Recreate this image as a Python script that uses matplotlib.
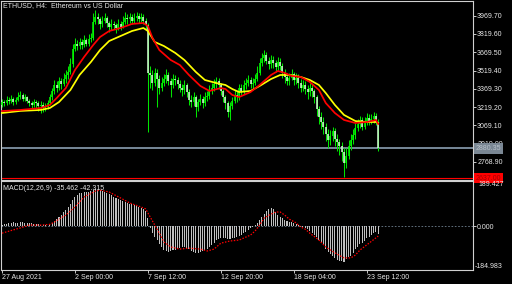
"""
ETHUSD H4 chart with moving averages and MACD (MetaTrader style)
"""

import matplotlib
matplotlib.use("Agg")
import matplotlib.pyplot as plt
import matplotlib.transforms as mtransforms

W, H, DPI = 512, 284, 100

FONT = "Liberation Sans"
FS = 5.0
BG = "#000000"
FRAME = "#d0d0d0"
TEXT = "#e8e8e8"

# ---- candles (H4 bars, 27 Aug 2021 -> 23 Sep 2021) ----
first_open = 3240
closes = [
    3260, 3250, 3280, 3270, 3290, 3260, 3280, 3300, 3320, 3290,
    3300, 3270, 3250, 3240, 3260, 3250, 3230, 3240, 3210, 3220,
    3250, 3300, 3350, 3400, 3380, 3430, 3410, 3450, 3480, 3510,
    3570, 3700, 3740, 3720, 3750, 3730, 3770, 3740, 3780, 3790,
    3920, 3960, 3940, 3900, 3930, 3950, 3910, 3880, 3900, 3890,
    3870, 3900, 3880, 3920, 3950, 3940, 3960, 3930, 3950, 3970,
    3940, 3960, 3930, 3890, 3500, 3480, 3420, 3500, 3450, 3380,
    3420, 3450, 3480, 3430, 3400, 3450, 3440, 3410, 3380, 3360,
    3400, 3340, 3280, 3260, 3300, 3220, 3260, 3290, 3250, 3300,
    3310, 3360, 3380, 3410, 3430, 3400, 3350, 3300, 3250, 3180,
    3230, 3270, 3320, 3300, 3380, 3350, 3400, 3420, 3440, 3410,
    3420, 3450, 3500, 3580, 3620, 3650, 3600, 3570, 3610, 3580,
    3550, 3590, 3560, 3500, 3470, 3430, 3460, 3490, 3440, 3460,
    3420, 3380, 3400, 3370, 3340, 3380, 3350, 3300, 3200, 3140,
    3100, 3060, 3000, 2950, 2980, 3020, 2960, 2930, 2900, 2850,
    2760, 2820, 2900, 2950, 2990, 3050, 3080, 3110, 3060, 3100,
    3130, 3100, 3120, 3150, 3100, 2880.35,
]
highs = [
    3290, 3280, 3310, 3300, 3320, 3305, 3300, 3340, 3350, 3335,
    3330, 3310, 3290, 3270, 3290, 3280, 3270, 3270, 3260, 3250,
    3280, 3330, 3380, 3440, 3430, 3470, 3460, 3500, 3520, 3560,
    3620, 3740, 3790, 3770, 3790, 3780, 3810, 3790, 3820, 3830,
    3990, 4020, 3990, 3960, 3970, 3990, 3970, 3930, 3940, 3930,
    3910, 3940, 3930, 3970, 4000, 3980, 3990, 3980, 3990, 4000,
    3990, 3990, 3980, 3950, 3910, 3560, 3520, 3540, 3530, 3480,
    3470, 3490, 3530, 3510, 3460, 3490, 3480, 3470, 3440, 3410,
    3440, 3420, 3370, 3320, 3340, 3320, 3290, 3330, 3310, 3340,
    3350, 3400, 3420, 3450, 3470, 3460, 3420, 3370, 3320, 3270,
    3260, 3300, 3360, 3350, 3410, 3410, 3440, 3460, 3480, 3470,
    3460, 3490, 3560, 3620, 3660, 3690, 3670, 3630, 3650, 3640,
    3610, 3630, 3620, 3580, 3530, 3500, 3500, 3530, 3510, 3500,
    3490, 3450, 3440, 3430, 3400, 3420, 3410, 3370, 3320, 3230,
    3180, 3140, 3090, 3040, 3030, 3060, 3050, 3000, 2960, 2930,
    2880, 2880, 2950, 3000, 3040, 3090, 3120, 3150, 3140, 3140,
    3170, 3160, 3160, 3180, 3170, 3120,
]
lows = [
    3220, 3225, 3240, 3245, 3255, 3240, 3245, 3270, 3290, 3270,
    3270, 3250, 3225, 3200, 3220, 3215, 3190, 3170, 3180, 3190,
    3200, 3235, 3280, 3330, 3340, 3360, 3370, 3390, 3420, 3450,
    3490, 3550, 3680, 3690, 3700, 3700, 3710, 3720, 3720, 3750,
    3770, 3900, 3900, 3860, 3880, 3910, 3880, 3840, 3850, 3860,
    3830, 3850, 3850, 3870, 3900, 3900, 3910, 3900, 3910, 3930,
    3910, 3920, 3900, 3860, 3015, 3380, 3360, 3390, 3220, 3330,
    3350, 3390, 3420, 3400, 3300, 3380, 3400, 3370, 3340, 3310,
    3330, 3300, 3240, 3220, 3230, 3140, 3190, 3240, 3210, 3230,
    3270, 3290, 3330, 3350, 3380, 3370, 3320, 3260, 3200, 3140,
    3110, 3200, 3250, 3260, 3280, 3320, 3330, 3370, 3390, 3380,
    3380, 3400, 3430, 3480, 3560, 3590, 3570, 3530, 3540, 3540,
    3510, 3520, 3520, 3460, 3420, 3400, 3400, 3440, 3400, 3410,
    3380, 3340, 3350, 3330, 3290, 3310, 3300, 3250, 3150, 3080,
    3040, 3000, 2940, 2880, 2910, 2940, 2900, 2860, 2830, 2780,
    2646, 2720, 2790, 2870, 2920, 2960, 3020, 3050, 3030, 3040,
    3070, 3070, 3080, 3090, 3070, 2860,
]

# ---- moving averages ----
red_ma_bars = [0, 8, 17, 21, 24, 28, 32, 36, 40, 43, 47, 52, 57, 62, 64, 66, 69, 74, 78, 82, 87,
               91, 96, 98, 101, 104, 109, 113, 118, 121, 124, 127, 131, 135, 139, 142, 146,
               150, 155, 160, 164, 165]
red_ma = [3187, 3196, 3212, 3237, 3294, 3376, 3524, 3631, 3729, 3795, 3844, 3869, 3902, 3910,
          3885, 3787, 3688, 3606, 3565, 3483, 3393, 3352, 3376, 3368, 3319, 3302, 3343, 3401,
          3483, 3516, 3500, 3475, 3467, 3426, 3360, 3253, 3171, 3114, 3089, 3097, 3114, 3081]
yellow_ma_bars = [0, 8, 17, 21, 25, 30, 34, 39, 43, 47, 52, 57, 62, 64, 67, 71, 76, 80, 85, 89,
                  94, 98, 101, 104, 109, 113, 118, 122, 126, 131, 135, 139, 142, 146, 150, 155,
                  160, 164, 165]
yellow_ma = [3171, 3188, 3196, 3212, 3261, 3360, 3483, 3590, 3688, 3762, 3803, 3844, 3869, 3844,
             3754, 3721, 3664, 3606, 3508, 3442, 3417, 3401, 3368, 3343, 3352, 3393, 3450, 3483,
             3483, 3467, 3442, 3401, 3335, 3237, 3155, 3105, 3097, 3097, 3089]

# ---- MACD(12,26,9) ----
macd_main = [
    5, 8, 10, 12, 14, 15, 14, 13, 15, 16,
    14, 12, 13, 12, 10, 9, 8, 6, 4, 3,
    2, 5, 12, 20, 28, 38, 48, 58, 68, 80,
    92, 108, 122, 132, 138, 141, 143, 144, 145, 148,
    151, 154, 153, 152, 149, 145, 141, 136, 130, 124,
    120, 115, 108, 104, 100, 98, 94, 92, 89, 86,
    82, 76, 70, 62, 34, -10, -30, -45, -60, -75,
    -90, -100, -107, -110, -106, -102, -100, -97, -93, -90,
    -88, -92, -98, -104, -108, -112, -113, -110, -106, -102,
    -98, -90, -80, -70, -60, -54, -50, -50, -52, -56,
    -54, -52, -50, -46, -42, -36, -30, -24, -18, -10,
    -4, 5, 14, 26, 38, 52, 63, 70, 76, 70,
    60, 48, 38, 32, 26, 20, 17, 15, 12, 8,
    3, -3, -6, -10, -14, -20, -28, -36, -46, -58,
    -68, -80, -95, -108, -118, -128, -136, -142, -146, -148,
    -151, -140, -132, -124, -112, -98, -88, -76, -70, -62,
    -52, -46, -38, -30, -26, -35.462,
]
signal_bars = [0, 8, 12, 17, 21, 23, 28, 32, 36, 41, 43, 47, 52, 56, 61, 63, 65, 67, 69, 71,
               74, 78, 82, 87, 90, 93, 96, 100, 104, 109, 111, 113, 115, 118, 120, 122, 124,
               126, 129, 131, 133, 135, 139, 142, 146, 150, 153, 155, 157, 161, 165]
signal = [-30, -8, 4, 4, 7, 17, 46, 80, 122, 147, 151, 143, 118, 97, 80, 72, 38, 4, -30, -67,
          -88, -97, -93, -97, -105, -97, -72, -63, -59, -38, -21, 4, 34, 50, 59, 59, 46,
          29, 13, -4, -13, -30, -59, -88, -113, -134, -134, -122, -101, -72, -42.315]

price_ticks = [3969.70, 3819.60, 3669.50, 3519.40, 3369.30, 3219.20, 3069.10, 2919.00, 2768.90]
bid_price = 2880.35
alert_price = 2637.00
macd_top, macd_bottom = 189.427, -184.983
time_ticks = [0, 32, 64, 96, 128, 160]
time_labels = ["27 Aug 2021", "2 Sep 00:00", "7 Sep 12:00", "12 Sep 20:00",
               "18 Sep 04:00", "23 Sep 12:00"]

PX_PER_BAR = 2.28


def box(l, t, r, b):
    return [l / W, 1 - b / H, (r - l) / W, (b - t) / H]


def style_axes(ax):
    ax.set_facecolor(BG)
    for s in ax.spines.values():
        s.set_color(FRAME)
        s.set_linewidth(0.8)
    ax.yaxis.tick_right()
    ax.tick_params(axis="both", colors=TEXT, labelsize=FS, length=2.2, width=0.6, pad=0.8)


plt.rcParams["font.family"] = [FONT, "DejaVu Sans"]

fig = plt.figure(figsize=(W / DPI, H / DPI), dpi=DPI)
fig.patch.set_facecolor(BG)

xlim = ((1 - 2) / PX_PER_BAR, (473 - 2) / PX_PER_BAR)

# ---------------- price panel ----------------
ax1 = fig.add_axes(box(1, 1, 473, 179.5))
style_axes(ax1)
ax1.set_xlim(*xlim)
ax1.set_ylim(2625.2, 4090.4)
ax1.set_xticks([])

opens = [first_open] + closes[:-1]
n = len(closes)
bars = list(range(n))
ax1.vlines(bars, lows, highs, color="#00e400", lw=0.75, zorder=2)
bull = [i for i in bars if closes[i] >= opens[i]]
bear = [i for i in bars if closes[i] < opens[i]]
ax1.vlines(bull, [opens[i] for i in bull], [closes[i] for i in bull],
           color="#00ff00", lw=1.1, zorder=3)
ax1.vlines(bear, [closes[i] for i in bear], [opens[i] for i in bear],
           color="#d8ffd8", lw=1.1, zorder=3)

ax1.plot(yellow_ma_bars, yellow_ma, color="#ffff00", lw=1.25, zorder=4)
ax1.plot(red_ma_bars, red_ma, color="#ff0000", lw=1.25, zorder=5)

ax1.axhline(bid_price, color="#778899", lw=1.4, zorder=1)
ax1.axhline(alert_price, color="#ff0000", lw=0.8, zorder=1)

ax1.set_yticks(price_ticks)
ax1.set_yticklabels([f"{v:.2f}" for v in price_ticks])

trans1 = mtransforms.blended_transform_factory(ax1.transAxes, ax1.transData)
ax1.text(1.006, bid_price, f"{bid_price:.2f}", transform=trans1, fontsize=FS,
         color="#b8c0c8", va="center", ha="left", clip_on=False, zorder=10,
         bbox=dict(boxstyle="square,pad=0.25", fc="#7a8794", ec="none"))
ax1.text(1.006, alert_price, f"{alert_price:.2f}", transform=trans1, fontsize=FS,
         color="#a00000", va="center", ha="left", clip_on=False, zorder=10,
         bbox=dict(boxstyle="square,pad=0.25", fc="#ff0000", ec="none"))

fig.text(3 / W, 1 - 5.5 / H, "ETHUSD, H4:  Ethereum vs US Dollar", fontsize=FS,
         color=TEXT, va="center", ha="left")

# ---------------- MACD panel ----------------
ax2 = fig.add_axes(box(1, 181, 473, 270))
style_axes(ax2)
ax2.set_xlim(*xlim)
ax2.set_ylim(macd_bottom, macd_top)

ax2.bar(bars, macd_main, width=0.45, color="#c0c0c0", zorder=2)
ax2.axhline(0, color="#708090", lw=0.6, ls=(0, (2, 2)), zorder=1)
ax2.plot(signal_bars, signal, color="#ff0000", lw=0.9, ls=(0, (1.2, 1.2)), zorder=3)

ax2.set_yticks([0])
ax2.set_yticklabels(["0.000"])
trans2 = mtransforms.blended_transform_factory(ax2.transAxes, ax2.transData)
ax2.text(1.012, macd_top, f"{macd_top:.3f}", transform=trans2, fontsize=FS,
         color=TEXT, va="top", ha="left", clip_on=False)
ax2.text(1.004, macd_bottom, f"-{abs(macd_bottom):.3f}", transform=trans2, fontsize=FS,
         color=TEXT, va="bottom", ha="left", clip_on=False)

ax2.set_xticks(time_ticks)
ax2.set_xticklabels(time_labels)
for lab in ax2.get_xticklabels():
    lab.set_horizontalalignment("left")

fig.text(3 / W, 1 - 188 / H,
         f"MACD(12,26,9) {macd_main[-1]:.3f} {signal[-1]:.3f}",
         fontsize=FS, color=TEXT, va="center", ha="left")

fig.savefig("out.png", dpi=DPI, facecolor=BG)
